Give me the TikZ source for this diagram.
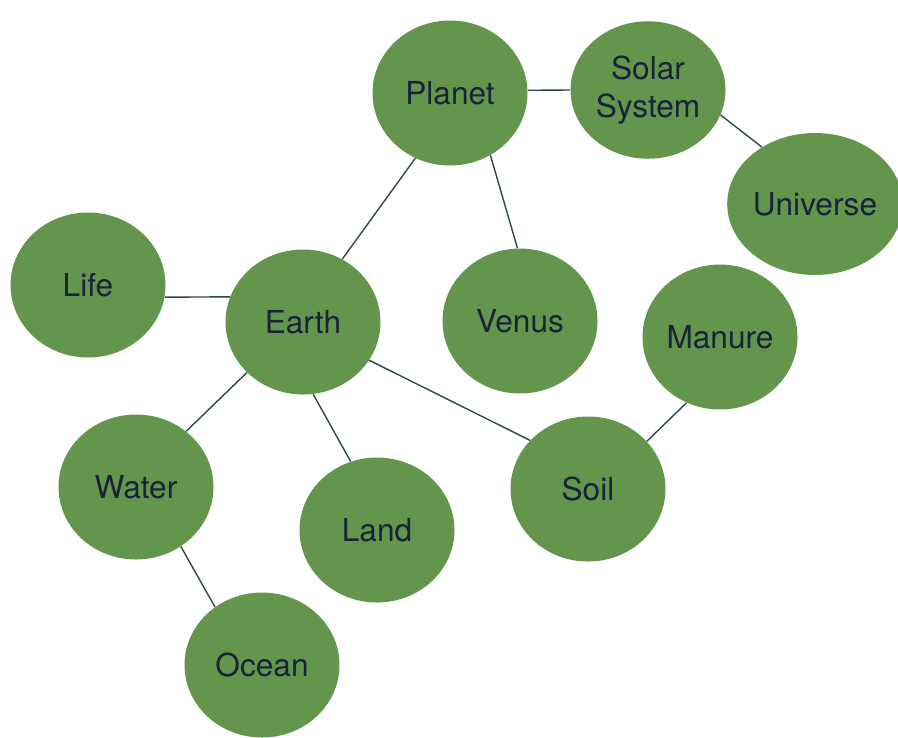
\documentclass[tikz,border=0pt]{standalone}
\usepackage{fontspec}
\setmainfont{TeX Gyre Heros}
\usepackage{tikz}
\usetikzlibrary{shapes.geometric}

\definecolor{leaf}{RGB}{99,150,76}
\definecolor{ink}{RGB}{24,34,58}
\definecolor{twig}{RGB}{48,72,70}

\begin{document}
\begin{tikzpicture}[
  every node/.style={ellipse, fill=leaf, inner sep=0pt, minimum width=3.1cm,
    minimum height=2.9cm, text=ink, align=center,
    font=\fontsize{18}{22}\selectfont},
  link/.style={draw=twig, line width=0.8pt}
]
\useasboundingbox (0,0) rectangle (17.96,-14.74);

% --- top row ---
\node (planet) at (9.00,-1.86) {Planet};
\node[minimum height=2.75cm] (solar) at (12.96,-1.80) {Solar\\System};
\node[minimum width=3.32cm, minimum height=2.84cm] (universe) at (16.30,-4.08) {Universe};

% --- middle row ---
\node (life) at (1.76,-5.70) {Life};
\node (earth) at (6.06,-6.44) {Earth};
\node (venus) at (10.40,-6.42) {Venus};
\node (manure) at (14.40,-6.74) {Manure};

% --- bottom rows ---
\node (water) at (2.72,-9.74) {Water};
\node (land) at (7.54,-10.60) {Land};
\node (soil) at (11.76,-9.78) {Soil};
\node (ocean) at (5.24,-13.30) {Ocean};

% --- links ---
\draw[link] (planet.2) -- (solar.180);
\draw[link] (solar.-19) -- (universe.133);
\draw[link] (planet.-118) -- (earth.58);
\draw[link] (planet.-57) -- (venus.92);
\draw[link] (life.-9) -- (earth.161);
\draw[link] (earth.-138) -- (water.48);
\draw[link] (earth.-82) -- (land.111);
\draw[link] (earth.-30) -- (soil.140);
\draw[link] (water.-53) -- (ocean.129);
\draw[link] (soil.39) -- (manure.-117);

\end{tikzpicture}
\end{document}
